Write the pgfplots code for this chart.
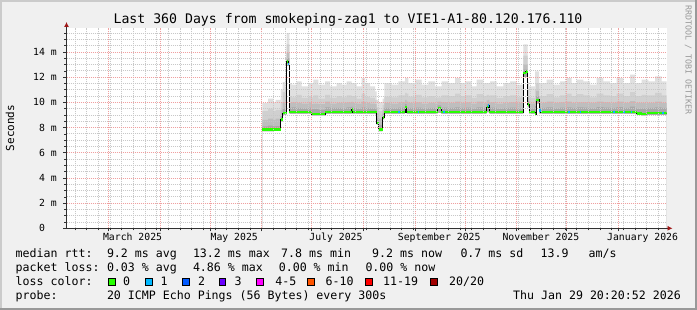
\documentclass[border=0pt]{standalone}
\usepackage{fontspec}
\setmainfont{DejaVu Sans Mono}
\usepackage{pgfplots}
\usepackage{pgfplotstable}
\pgfplotsset{compat=1.18}
\usetikzlibrary{arrows.meta}
\definecolor{bgc}{HTML}{F0F0F0}
\definecolor{shadea}{HTML}{CBCBCB}
\definecolor{shadeb}{HTML}{999999}
\definecolor{mgrid}{HTML}{F0A0A0}
\definecolor{ngrid}{HTML}{C8C8C8}
\definecolor{arrowc}{HTML}{A01818}
\definecolor{axisc}{HTML}{303030}
\definecolor{smA}{HTML}{E0E0E0}
\definecolor{smB}{HTML}{D0D0D0}
\definecolor{smC}{HTML}{BEBEBE}
\definecolor{smD}{HTML}{A8A8A8}
\definecolor{lc0}{HTML}{26FF00}
\definecolor{lc1}{HTML}{00B8FF}
\definecolor{lc2}{HTML}{0059FF}
\definecolor{lc3}{HTML}{6A00FF}
\definecolor{lc45}{HTML}{FF00FF}
\definecolor{lc610}{HTML}{FF5500}
\definecolor{lc1119}{HTML}{FF0000}
\definecolor{lc20}{HTML}{A10000}

\pgfplotstableread{
x med lo d c b a
117.5 7.83 7.70 8.10 8.60 9.30 9.94
120.9 7.83 7.70 8.15 8.70 9.50 10.29
124.1 7.83 7.72 8.10 8.60 9.30 9.99
125.5 7.83 7.72 8.12 8.70 9.40 10.20
128.5 8.62 8.45 8.90 9.40 10.00 11.00
129.7 9.15 9.00 9.50 10.00 10.80 11.60
131.1 9.15 9.00 9.60 10.30 11.20 12.20
132.1 13.25 12.90 13.50 13.90 14.60 15.50
133.1 13.04 12.90 13.50 13.90 14.60 15.50
133.7 9.23 9.08 9.55 9.95 10.50 11.53
135.1 9.23 9.08 9.60 10.00 10.40 11.40
138.1 9.23 9.08 9.55 9.95 10.60 11.67
141.1 9.23 9.08 9.52 9.90 10.35 11.27
145.1 9.23 9.08 9.58 10.00 10.50 11.53
147.1 9.07 8.95 9.45 9.85 10.40 11.53
148.1 9.07 8.95 9.45 9.90 10.55 11.80
151.1 9.07 8.95 9.42 9.85 10.30 11.40
155.1 9.23 9.08 9.60 10.05 10.60 11.67
158.1 9.23 9.08 9.55 9.90 10.35 11.27
162.1 9.23 9.08 9.55 9.95 10.50 11.53
165.1 9.23 9.08 9.52 9.95 10.40 11.40
168.1 9.23 9.08 9.60 10.00 10.55 11.67
171.1 9.42 9.10 9.65 10.05 10.50 11.53
171.7 9.23 9.08 9.55 9.95 10.50 11.53
174.1 9.23 9.08 9.50 9.90 10.30 11.27
177.1 9.23 9.08 9.60 10.05 10.70 11.93
179.1 9.23 9.08 9.55 9.95 10.45 11.53
182.1 9.23 9.08 9.52 9.90 10.35 11.27
185.1 9.23 9.05 9.50 9.85 10.20 10.87
186.1 8.36 8.20 8.70 9.10 9.60 10.20
187.3 7.83 7.70 8.20 8.70 9.30 10.00
189.7 8.81 8.65 9.10 9.40 9.80 10.30
190.7 9.23 9.08 9.55 9.95 10.45 11.53
195.1 9.23 9.08 9.52 9.90 10.40 11.40
199.1 9.23 9.08 9.58 10.00 10.55 11.67
203.1 9.63 9.20 9.85 10.20 10.75 11.93
204.1 9.23 9.08 9.60 10.05 10.70 11.93
205.1 9.23 9.08 9.55 9.95 10.45 11.53
209.1 9.23 9.08 9.58 10.00 10.60 11.80
213.1 9.23 9.08 9.52 9.90 10.40 11.40
217.1 9.23 9.08 9.55 9.95 10.50 11.67
221.1 9.23 9.08 9.50 9.90 10.35 11.27
222.7 9.55 9.15 9.75 10.05 10.40 11.27
224.7 9.23 9.08 9.55 9.95 10.40 11.27
225.1 9.23 9.08 9.58 10.00 10.55 11.67
229.1 9.23 9.08 9.55 9.95 10.50 11.53
233.1 9.23 9.08 9.60 10.05 10.70 11.93
236.1 9.23 9.08 9.55 9.95 10.50 11.53
239.1 9.23 9.08 9.58 10.00 10.55 11.67
243.1 9.23 9.08 9.50 9.90 10.35 11.27
246.1 9.23 9.08 9.60 10.05 10.65 11.80
250.1 9.23 9.08 9.55 9.95 10.50 11.53
252.1 9.63 9.20 9.85 10.15 10.60 11.53
252.9 9.73 9.20 9.90 10.20 10.60 11.53
253.7 9.23 9.08 9.55 9.95 10.50 11.53
254.1 9.23 9.08 9.58 10.00 10.55 11.67
258.1 9.23 9.08 9.50 9.90 10.35 11.27
262.1 9.23 9.08 9.55 9.95 10.50 11.53
266.1 9.23 9.08 9.58 10.00 10.55 11.67
270.1 9.23 9.08 9.52 9.95 10.40 11.40
274.1 12.32 12.00 12.60 13.00 13.70 14.60
275.5 12.46 12.00 12.60 13.00 13.70 14.60
276.7 9.81 9.60 10.10 10.50 11.00 11.60
277.5 9.23 9.08 9.50 9.90 10.35 11.27
281.1 9.07 8.95 9.70 10.20 11.00 12.46
281.7 10.20 9.90 10.50 10.90 11.50 12.46
283.5 9.33 9.10 9.60 10.00 10.50 11.53
284.5 9.23 9.08 9.55 9.95 10.50 11.53
288.1 9.23 9.08 9.60 10.05 10.65 11.80
292.1 9.23 9.08 9.52 9.95 10.40 11.40
296.1 9.23 9.08 9.58 10.00 10.55 11.67
300.1 9.23 9.08 9.60 10.05 10.70 11.93
303.1 9.23 9.08 9.55 9.95 10.50 11.53
306.1 9.23 9.08 9.60 10.00 10.65 11.80
310.1 9.23 9.08 9.58 10.00 10.55 11.67
314.1 9.23 9.08 9.52 9.95 10.40 11.40
318.1 9.23 9.08 9.62 10.05 10.70 11.93
322.1 9.23 9.08 9.58 10.00 10.55 11.67
326.1 9.23 9.08 9.55 9.95 10.50 11.53
330.1 9.23 9.08 9.62 10.05 10.70 11.93
334.1 9.23 9.08 9.55 9.95 10.50 11.53
338.1 9.23 9.08 9.65 10.10 10.80 12.19
341.1 9.23 9.05 9.55 9.95 10.50 11.53
342.1 9.10 8.98 9.50 9.95 10.50 11.53
345.1 9.07 8.95 9.52 9.95 10.60 11.80
348.1 9.15 8.98 9.55 9.95 10.55 11.80
349.1 9.15 8.98 9.55 9.95 10.55 11.67
353.1 9.15 8.98 9.60 10.05 10.75 12.06
357.1 9.15 8.98 9.55 9.95 10.55 11.67
360.0 9.15 8.98 9.55 9.95 10.55 11.67
}\smoke

\newcommand\lgf{\fontsize{11.6}{14}\selectfont}
\newcommand\tkf{\fontsize{9.8}{11}\selectfont}

\begin{document}
\begin{tikzpicture}[x=1pt,y=1pt]
\fill[bgc] (0,0) rectangle (697,310);
\fill[shadea] (0,0) rectangle (2,310);
\fill[shadea] (0,308) rectangle (697,310);
\fill[shadeb] (695,0) rectangle (697,310);
\fill[shadeb] (0,0) rectangle (697,2);

\begin{axis}[
  at={(66.5pt,81.7pt)}, anchor=origin,
  scale only axis, width=600pt, height=200.3pt,
  xmin=0, xmax=360, ymin=0, ymax=15.9,
  axis background/.style={fill=white},
  axis on top,
  axis x line=bottom, axis y line=left,
  x axis line style={axisc, line width=0.8pt, -{Latex[length=5pt,width=5pt,color=arrowc]}, shorten >=-6pt},
  y axis line style={axisc, line width=0.8pt, -{Latex[length=5pt,width=5pt,color=arrowc]}, shorten >=-6pt},
  grid=both,
  major grid style={mgrid, line width=0.8pt, dash pattern=on 1pt off 1pt},
  minor grid style={ngrid, line width=0.8pt, dash pattern=on 1pt off 1pt},
  xtick={25.15,56.15,86.15,117.15,147.15,178.15,209.15,239.15,270.15,300.15,331.15},
  xticklabels={},
  minor xtick={5.15,12.15,...,360},
  extra x ticks={39.65,100.65,161.65,223.65,284.65,345.65},
  extra x tick labels={March 2025,May 2025,July 2025,September 2025,November 2025,January 2026},
  extra x tick style={grid=none, major tick length=0pt},
  ytick={0,2,4,6,8,10,12,14},
  yticklabels={0\hphantom{mm},2 m,4 m,6 m,8 m,10 m,12 m,14 m},
  minor ytick={0.5,1,1.5,2.5,3,3.5,4.5,5,5.5,6.5,7,7.5,8.5,9,9.5,10.5,11,11.5,12.5,13,13.5,14.5,15,15.5},
  tick style={axisc, line width=0.6pt},
  major tick length=3pt, minor tick length=2pt, tick align=outside,
  xticklabel style={font=\tkf, anchor=base, inner sep=0pt, yshift=-12.4pt},
  yticklabel style={font=\tkf, anchor=east, inner sep=0pt, xshift=-6.5pt},
]
\addplot[const plot, fill=smA, draw=none] table[x=x,y=a]{\smoke} \closedcycle;
\addplot[const plot, fill=smB, draw=none] table[x=x,y=b]{\smoke} \closedcycle;
\addplot[const plot, fill=smC, draw=none] table[x=x,y=c]{\smoke} \closedcycle;
\addplot[const plot, fill=smD, draw=none] table[x=x,y=d]{\smoke} \closedcycle;
\addplot[const plot, fill=white, draw=none] table[x=x,y=lo]{\smoke} \closedcycle;
\addplot[const plot, black, line width=0.8pt] table[x=x,y=med]{\smoke};
\addplot[jump mark left, lc0, line width=2.6pt] table[x=x,y=med]{\smoke};
\addplot[lc1, line width=2.6pt, unbounded coords=jump] coordinates {
(133.1,13.04) (133.7,13.04) (133.7,nan)
(199.1,9.23) (199.8,9.23) (199.8,nan)
(210.7,9.23) (211.4,9.23) (211.4,nan)
(226.1,9.23) (226.8,9.23) (226.8,nan)
(252.9,9.73) (253.7,9.73) (253.7,nan)
(283.5,9.33) (284.5,9.33) (284.5,nan)
(301.1,9.23) (302.1,9.23) (302.1,nan)
(308.1,9.23) (308.8,9.23) (308.8,nan)
(328.1,9.23) (328.8,9.23) (328.8,nan)
(334.1,9.23) (334.8,9.23) (334.8,nan)
(338.5,9.23) (339.2,9.23) (339.2,nan)
(357.5,9.15) (358.2,9.15)
};
\end{axis}

% title, axis label, watermark
\node[anchor=base, inner sep=0pt, font=\fontsize{13.2}{15}\selectfont] at (348,286)
  {Last 360 Days from smokeping-zag1 to VIE1-A1-80.120.176.110};
\node[rotate=90, inner sep=0pt, font=\fontsize{11}{13}\selectfont] at (10,182) {Seconds};
\node[rotate=-90, inner sep=0pt, text=black!40, font=\fontsize{8.3}{10}\selectfont] at (688.3,250) {RRDTOOL / TOBI OETIKER};

% legend
\tikzset{lg/.style={anchor=base west, inner sep=0pt, font=\lgf}}
\node[lg] at (15.5,52) {median rtt:};
\node[lg] at (106.8,52) {9.2 ms avg};
\node[lg] at (192.8,52) {13.2 ms max};
\node[lg] at (281,52) {7.8 ms min};
\node[lg] at (372,52) {9.2 ms now};
\node[lg] at (460.3,52) {0.7 ms sd};
\node[lg] at (540.5,52) {13.9};
\node[lg] at (588.5,52) {am/s};

\node[lg] at (15.5,38) {packet loss:};
\node[lg] at (106.8,38) {0.03 \% avg};
\node[lg] at (192.8,38) {4.86 \% max};
\node[lg] at (278.6,38) {0.00 \% min};
\node[lg] at (365.3,38) {0.00 \% now};

\node[lg] at (15.5,24) {loss color:};
\foreach \bx/\cl in {108.3/lc0,145.7/lc1,182.3/lc2,219/lc3,256.5/lc45,307.8/lc610,365.7/lc1119,430.7/lc20}
  \filldraw[fill=\cl, draw=black, line width=0.8pt] (\bx,24.4) rectangle ++(6.8,6.8);
\node[lg] at (122.8,24) {0};
\node[lg] at (160.5,24) {1};
\node[lg] at (197.8,24) {2};
\node[lg] at (234.5,24) {3};
\node[lg] at (275.2,24) {4-5};
\node[lg] at (325.5,24) {6-10};
\node[lg] at (383,24) {11-19};
\node[lg] at (449,24) {20/20};

\node[lg] at (15.5,10) {probe:};
\node[lg] at (106.8,10) {20 ICMP Echo Pings (56 Bytes) every 300s};
\node[anchor=base east, inner sep=0pt, font=\lgf] at (681,10) {Thu Jan 29 20:20:52 2026};

\pgfresetboundingbox
\useasboundingbox (0,0) rectangle (697,310);
\end{tikzpicture}
\end{document}
